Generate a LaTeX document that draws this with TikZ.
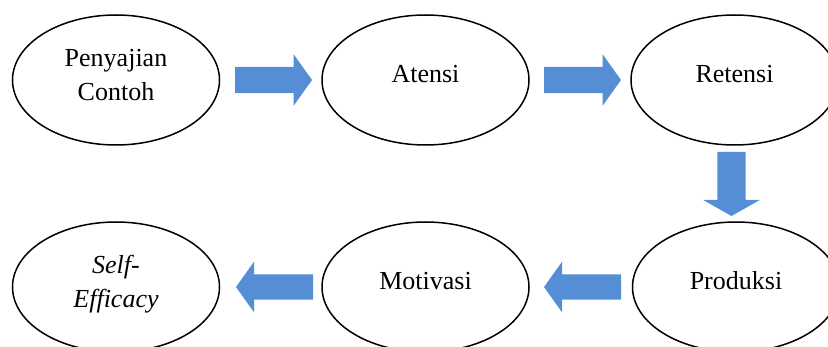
\documentclass[tikz,border=0pt]{standalone}
\usepackage{fontspec}
\setmainfont{Liberation Serif}
\usetikzlibrary{shapes.geometric,shapes.arrows}
\definecolor{arrowblue}{RGB}{85,142,213}
\tikzset{
  oval/.style={ellipse, draw=black, line width=1.5pt, minimum width=207pt, minimum height=130pt, inner sep=0pt, outer sep=0pt},
  lbl/.style={align=center, inner sep=0pt, font=\fontsize{26}{33.5}\selectfont},
  barrow/.style={single arrow, fill=arrowblue, draw=none, inner xsep=0pt, outer sep=0pt, minimum width=0pt, anchor=tip},
}
\begin{document}
\begin{tikzpicture}[x=1pt,y=-1pt]
\useasboundingbox (0,0) rectangle (828,347);
\clip (0,0) rectangle (828,347);
% ellipses
\node[oval] (e1) at (116,80) {};
\node[oval] (e2) at (425.5,80) {};
\node[oval] (e3) at (734.5,80) {};
\node[oval] (b1) at (116,287) {};
\node[oval] (b2) at (425.5,287) {};
\node[oval] (b3) at (736,287) {};
% texts
\node[lbl] (t1) at ([yshift=5pt]e1.center) {Penyajian\\Contoh};
\node[lbl] (t2) at ([yshift=6pt]e2.center) {Atensi};
\node[lbl] (t3) at ([yshift=6pt]e3.center) {Retensi};
\node[lbl,font=\fontsize{26}{33.5}\selectfont\itshape] (t4) at ([yshift=3pt]b1.center) {Self-\\Efficacy};
\node[lbl] (t5) at ([yshift=6pt]b2.center) {Motivasi};
\node[lbl] (t6) at ([yshift=6pt]b3.center) {Produksi};
% block arrows
\node[barrow, minimum height=77pt, inner ysep=13pt, single arrow head extend=12.5pt, single arrow tip angle=109] (a1) at (312,80) {};
\node[barrow, minimum height=77pt, inner ysep=13pt, single arrow head extend=12.5pt, single arrow tip angle=109] (a2) at (621,80) {};
\node[barrow, rotate=-90, minimum height=64pt, inner ysep=14pt, single arrow head extend=14.5pt, single arrow tip angle=121] (a3) at (731.5,216) {};
\node[barrow, rotate=180, minimum height=77pt, inner ysep=12.5pt, single arrow head extend=12.8pt, single arrow tip angle=109] (a4) at (544,287) {};
\node[barrow, rotate=180, minimum height=77pt, inner ysep=12.5pt, single arrow head extend=12.8pt, single arrow tip angle=109] (a5) at (236,287) {};
\end{tikzpicture}
\end{document}
